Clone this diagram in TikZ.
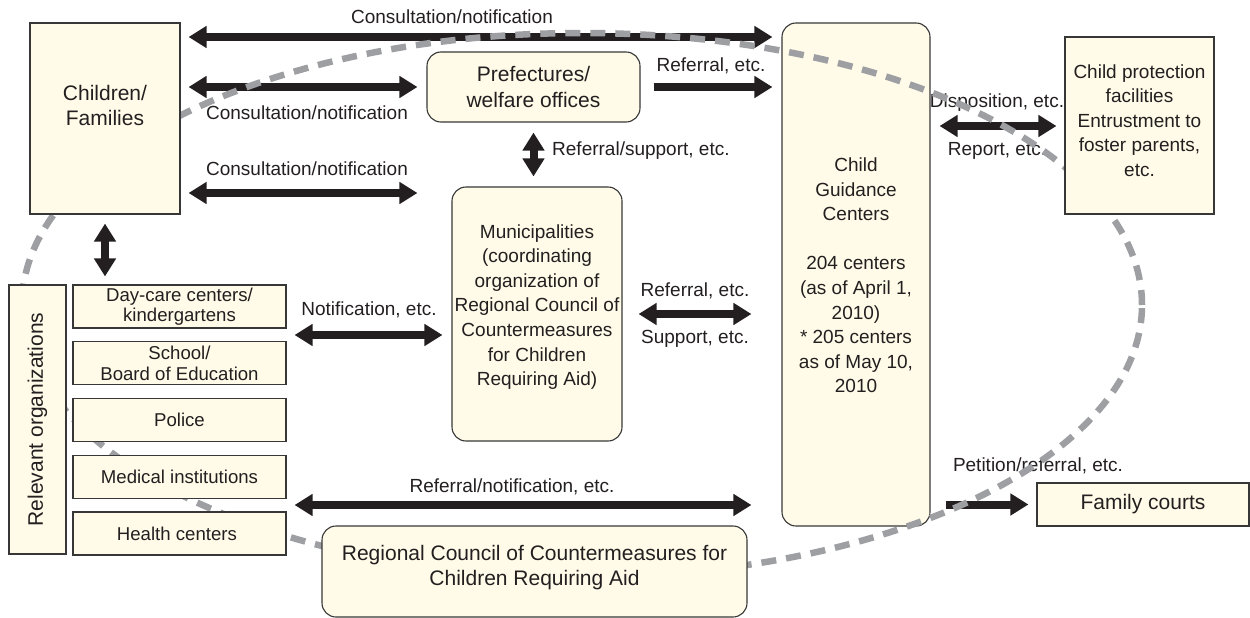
\documentclass[tikz,border=0pt]{standalone}
\usepackage{fontspec}
\setmainfont{Liberation Sans}
\usepackage{tikz}
\usetikzlibrary{arrows.meta}
\usetikzlibrary{fit}

\definecolor{boxfill}{RGB}{255,251,232}
\definecolor{boxline}{RGB}{55,55,55}
\definecolor{ink}{RGB}{35,31,32}
\definecolor{ringgray}{RGB}{158,159,163}

\pgfdeclarelayer{front}
\pgfsetlayers{main,front}

\tikzset{
	box/.style = {draw=boxline, fill=boxfill, line width=1.1pt, inner sep=0pt},
	rbox/.style = {box, rounded corners=14pt},
	txt/.style = {text=ink, font=\fontsize{19}{24.6}\selectfont, align=center, inner sep=0pt},
	big/.style = {text=ink, font=\fontsize{21}{25.5}\selectfont, align=center, inner sep=0pt},
	small/.style = {text=ink, font=\fontsize{18.6}{20.5}\selectfont, align=center, inner sep=0pt},
	dbl/.style = {draw=ink, line width=8pt, >={Triangle[length=18pt,width=21pt]}, <->},
	one/.style = {draw=ink, line width=8pt, >={Triangle[length=18pt,width=21pt]}, ->},
	ring/.style = {draw=ringgray, line width=6.5pt, dash pattern=on 15pt off 10pt}
}

\begin{document}
\begin{tikzpicture}[x=1pt, y=-1pt]
		\useasboundingbox (0,0) rectangle (1250,618);

		% boxes under the ring
		\node[rbox, fit={(782,23)(930,526)}, label={[txt, yshift=-1pt]center:Child\\Guidance\\Centers\\[24.6pt]204 centers\\(as of April 1,\\2010)\\* 205 centers\\as of May 10,\\2010}](cg){};
		\node[rbox, fit={(427,52)(640,122)}, label={[big]center:Prefectures/\\welfare offices}](pref){};
		\node[rbox, fit={(452,187)(622,441)}, label={[txt, yshift=7pt]center:Municipalities\\(coordinating\\organization of\\Regional Council of\\Countermeasures\\for Children\\Requiring Aid)}](muni){};
		\node[box, fit={(1037,483)(1249,526)}, label={[big]center:Family courts}](court){};

		% boxes over the ring
		\begin{pgfonlayer}{front}
				\node[box, fit={(30,23)(180,214)}, label={[big, yshift=13pt]center:Children/\\Families}](child){};
				\node[box, fit={(1065,37)(1214,214)}, label={[txt, yshift=5pt]center:Child protection\\facilities\\Entrustment to\\foster parents,\\etc.}](prot){};
				\node[box, fit={(9,285)(66,554)}, label={[big, rotate=90]center:Relevant organizations}](rel){};
				\foreach \m/\lab in{
						0/{Day-care centers/\\kindergartens},
						1/{School/\\Board of Education},
						2/Police,
						3/Medical institutions,
						4/Health centers
				}{
				\pgfmathsetmacro{\sy}{285+56.75*\m}
				\pgfmathsetmacro{\ey}{43+\sy}
				\node[box, fit={(73,\sy)(286,\ey)}, label={[small]center:\lab}](org\m){};
				}
				\node[rbox, fit={(322,526)(747,617)}, label={[big, yshift=4pt]center:Regional Council of Countermeasures for\\Children Requiring Aid}](council){};
		\end{pgfonlayer}

		% connectors
		\draw[dbl, shorten <=8pt, shorten >=9pt] (child.east |- 0,37) -- (cg.west |- 0,37);
		\draw[dbl, shorten <=8pt, shorten >=9pt] (child.east |- pref.west) -- (pref.west);
		\draw[dbl, shorten <=8pt, shorten >=34pt] (child.east |- 0,193) -- (muni.west |- 0,193);
		\draw[dbl, shorten <=9pt, shorten >=8pt] (child.south) -- (org0.north -| child.south);
		\draw[one, shorten <=13pt, shorten >=9pt] (pref.east) -- (cg.west |- pref.east);
		\draw[dbl, shorten <=10pt, shorten >=10pt] (pref.south) -- (muni.north -| pref.south);
		\draw[dbl, shorten <=9pt, shorten >=8pt] (cg.east |- 0,126) -- (prot.west |- 0,126);
		\draw[dbl, shorten <=8pt, shorten >=9pt] (org0.east |- 0,335) -- (muni.west |- 0,335);
		\draw[dbl, shorten <=16pt, shorten >=30pt] (muni.east |- 0,314) -- (cg.west |- 0,314);
		\draw[dbl, shorten <=8pt, shorten >=30pt] (org4.east |- 0,505) -- (cg.west |- 0,505);
		\draw[one, shorten <=15pt, shorten >=8pt] (cg.east |- court.west) -- (court.west);

		% connector texts
		\node[txt] (consA) at (452,17) {Consultation/notification};
		\node[txt] (consB) at (307,113) {Consultation/notification};
		\node[txt] (consC) at (307,169) {Consultation/notification};
		\node[txt] (refA) at (711,66) {Referral, etc.};
		\node[txt, anchor=west] (refsup) at (552,151) {Referral/support, etc.};
		\node[txt] (disp) at (997,103) {Disposition, etc.};
		\node[txt] (rep) at (997,151) {Report, etc.};
		\node[txt] (notif) at (369,310) {Notification, etc.};
		\node[txt] (refB) at (695,291) {Referral, etc.};
		\node[txt] (supp) at (695,339) {Support, etc.};
		\node[txt] (refnot) at (512,487) {Referral/notification, etc.};
		\node[txt] (pet) at (1038,466) {Petition/referral, etc.};

		% ring
		\draw[ring] (582,305) ellipse [x radius=560pt, y radius=272pt];
\end{tikzpicture}
\end{document}
